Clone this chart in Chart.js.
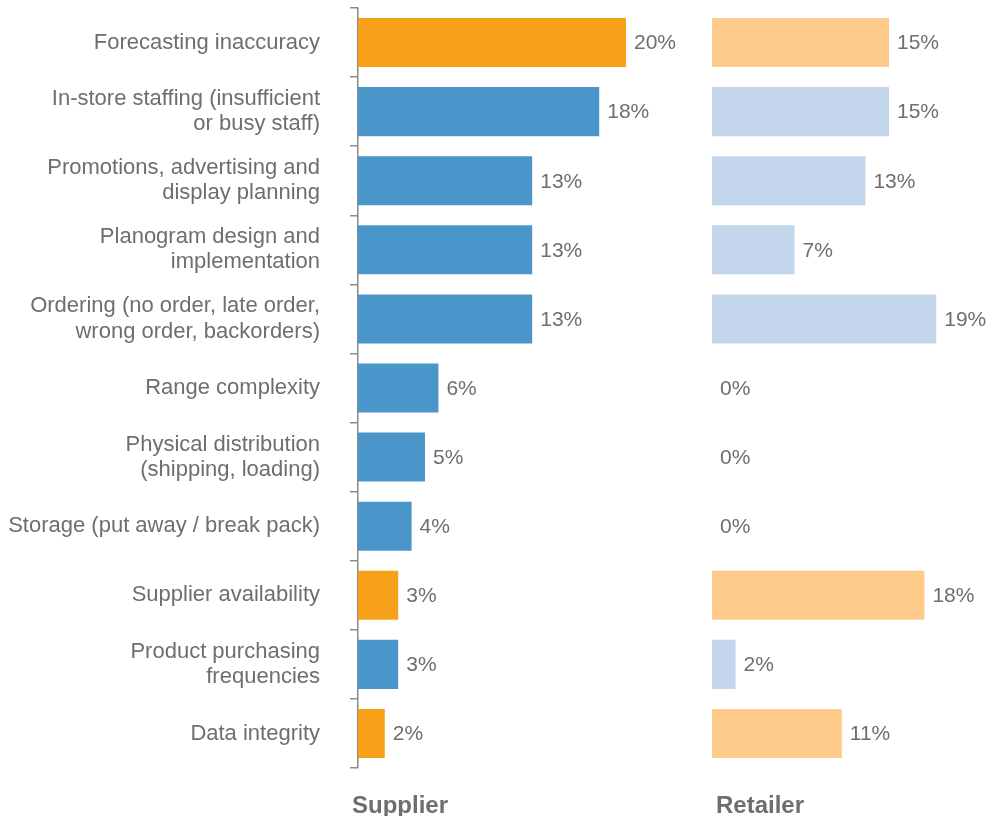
<!DOCTYPE html>
<html>
<head>
<meta charset="utf-8">
<script src="https://cdn.jsdelivr.net/npm/chart.js@4.4.0/dist/chart.umd.min.js"></script>
<style>
  html, body { margin: 0; padding: 0; background: #fff; }
  #wrap { position: relative; width: 987px; height: 816px; overflow: hidden; }
  .panel { position: absolute; top: 0; height: 816px; }
  .title { position: absolute; top: 791px; font: bold 24px "Liberation Sans", Arial, sans-serif; color: #6d6e71; }
</style>
</head>
<body>
<div id="wrap">
  <div class="panel" style="left:0;width:700px"><canvas id="supplierChart"></canvas></div>
  <div class="panel" style="left:700px;width:287px"><canvas id="retailerChart"></canvas></div>
  <div class="title" style="left:352px">Supplier</div>
  <div class="title" style="left:716px">Retailer</div>
</div>
<script>
// categories and values (percent)
const categories = [
  'Forecasting inaccuracy',
  ['In-store staffing (insufficient', 'or busy staff)'],
  ['Promotions, advertising and', 'display planning'],
  ['Planogram design and', 'implementation'],
  ['Ordering (no order, late order,', 'wrong order, backorders)'],
  'Range complexity',
  ['Physical distribution', '(shipping, loading)'],
  'Storage (put away / break pack)',
  'Supplier availability',
  ['Product purchasing', 'frequencies'],
  'Data integrity'
];
const supplierValues = [20, 18, 13, 13, 13, 6, 5, 4, 3, 3, 2];
const retailerValues = [15, 15, 13, 7, 19, 0, 0, 0, 18, 2, 11];
// rows drawn in orange
const highlightRows = [0, 8, 10];

const textColor = '#6d6e71';
const fontFamily = '"Liberation Sans", Arial, sans-serif';

function rowColors(hi, lo) {
  return categories.map((c, i) => highlightRows.includes(i) ? hi : lo);
}

// writes the value next to the end of every bar
const valueLabels = {
  id: 'valueLabels',
  afterDatasetsDraw(chart) {
    const ctx = chart.ctx;
    const meta = chart.getDatasetMeta(0);
    const data = chart.data.datasets[0].data;
    ctx.save();
    ctx.font = '21px ' + fontFamily;
    ctx.fillStyle = textColor;
    ctx.textAlign = 'left';
    ctx.textBaseline = 'middle';
    meta.data.forEach((bar, i) => {
      ctx.fillText(data[i] + '%', bar.x + 8, bar.y + 1);
    });
    ctx.restore();
  }
};

function makeChart(id, values, colors, xMax, padding, showAxis) {
  const ctx = document.getElementById(id).getContext('2d');
  return new Chart(ctx, {
    type: 'bar',
    data: {
      labels: categories,
      datasets: [{
        data: values,
        backgroundColor: colors,
        borderWidth: 0,
        categoryPercentage: 1,
        barPercentage: 0.71
      }]
    },
    options: {
      indexAxis: 'y',
      responsive: true,
      maintainAspectRatio: false,
      animation: false,
      layout: { padding: padding },
      plugins: { legend: { display: false }, tooltip: { enabled: false } },
      scales: {
        x: { display: false, min: 0, max: xMax },
        y: {
          display: showAxis,
          afterFit: (scale) => {
            if (!showAxis) return;
            // fixed axis position, and no extra room above/below for labels
            scale.width = 358;
            scale.paddingTop = 0;
            scale.paddingBottom = 0;
          },
          border: { display: true, color: '#8a8a8a', width: 1.5 },
          grid: {
            offset: true,
            drawOnChartArea: false,
            color: '#8a8a8a',
            lineWidth: 1.5,
            tickLength: 8
          },
          ticks: {
            color: textColor,
            font: { family: fontFamily, size: 22, lineHeight: 1.14 },
            padding: 30
          }
        }
      }
    },
    plugins: [valueLabels]
  });
}

makeChart('supplierChart', supplierValues, rowColors('#f7a11b', '#4a96ca'), 25,
  { top: 8, bottom: 48, left: 0, right: 7 }, true);
makeChart('retailerChart', retailerValues, rowColors('#fecb8b', '#c4d6ec'), 22,
  { top: 8, bottom: 48, left: 12, right: 15.4 }, false);
</script>
</body>
</html>
